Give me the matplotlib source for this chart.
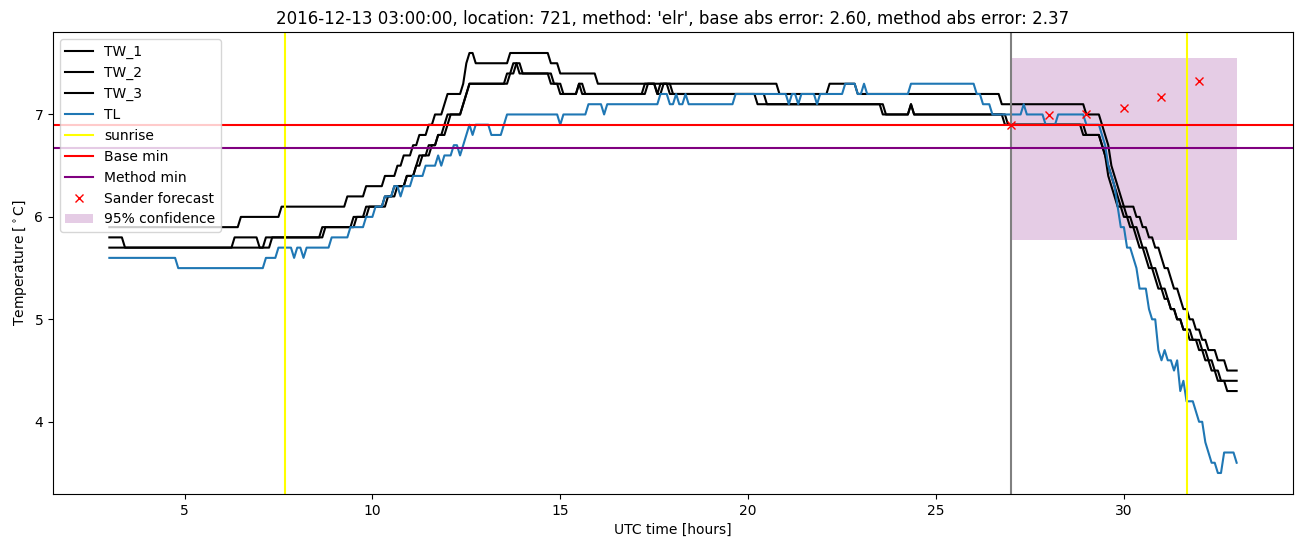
import numpy as np
import matplotlib
matplotlib.use("Agg")
import matplotlib.pyplot as plt

# measurements every 5 minutes, 03 UTC up to 33 UTC (next day 09 UTC)
hours = 3 + np.arange(361) / 12

# (start hour, value) : value is held from start hour until the next entry
tw1_steps = [
    (3.0, 5.9), (6.5, 6.0), (7.583, 6.1), (9.333, 6.2), (9.833, 6.3), (10.333, 6.4),
    (10.667, 6.5), (10.833, 6.6), (11.083, 6.7), (11.25, 6.8), (11.5, 6.9), (11.667, 7.0),
    (11.917, 7.1), (12.0, 7.2), (12.417, 7.3), (12.5, 7.5), (12.583, 7.6), (12.75, 7.5),
    (13.667, 7.6), (14.75, 7.5), (15.0, 7.4), (16.0, 7.3), (20.833, 7.2), (22.167, 7.3),
    (22.917, 7.2), (26.75, 7.1), (29.0, 7.0), (29.417, 6.9), (29.5, 6.8), (29.583, 6.7),
    (29.667, 6.5), (29.75, 6.4), (29.833, 6.3), (29.917, 6.2), (30.0, 6.1), (30.333, 6.0),
    (30.5, 5.9), (30.667, 5.8), (30.833, 5.7), (31.0, 5.6), (31.083, 5.5), (31.25, 5.4),
    (31.333, 5.3), (31.5, 5.2), (31.583, 5.1), (31.75, 5.0), (31.917, 4.9), (32.083, 4.8),
    (32.25, 4.7), (32.5, 4.6), (32.75, 4.5),
]
tw2_steps = [
    (3.0, 5.8), (3.417, 5.7), (6.333, 5.8), (7.0, 5.7), (7.167, 5.8), (8.667, 5.9),
    (9.5, 6.0), (9.833, 6.1), (10.333, 6.2), (10.583, 6.3), (10.917, 6.4), (11.167, 6.5),
    (11.25, 6.6), (11.5, 6.7), (11.75, 6.8), (11.917, 6.9), (12.0, 7.0), (12.417, 7.1),
    (12.5, 7.2), (12.583, 7.3), (13.583, 7.4), (13.75, 7.5), (13.917, 7.4), (14.75, 7.3),
    (15.0, 7.2), (15.5, 7.3), (15.583, 7.2), (17.25, 7.3), (17.583, 7.2), (17.667, 7.3),
    (17.917, 7.2), (20.25, 7.1), (23.583, 7.0), (24.333, 7.1), (24.417, 7.0), (26.833, 6.9),
    (28.917, 6.8), (29.417, 6.7), (29.5, 6.6), (29.583, 6.4), (29.667, 6.3), (29.75, 6.2),
    (29.833, 6.1), (30.0, 6.0), (30.167, 5.9), (30.333, 5.8), (30.417, 5.7), (30.583, 5.6),
    (30.667, 5.5), (30.833, 5.4), (30.917, 5.3), (31.083, 5.2), (31.25, 5.1), (31.417, 5.0),
    (31.583, 4.9), (31.75, 4.8), (32.0, 4.7), (32.167, 4.6), (32.333, 4.5), (32.5, 4.4),
]
tw3_steps = [
    (3.0, 5.7), (7.333, 5.8), (8.75, 5.9), (9.583, 6.0), (9.917, 6.1), (10.417, 6.2),
    (10.667, 6.3), (10.917, 6.4), (11.167, 6.5), (11.333, 6.6), (11.583, 6.7), (11.75, 6.8),
    (12.0, 6.9), (12.083, 7.0), (12.417, 7.1), (12.5, 7.2), (12.583, 7.3), (13.667, 7.4),
    (13.833, 7.5), (14.0, 7.4), (14.833, 7.3), (15.083, 7.2), (15.5, 7.3), (15.667, 7.2),
    (17.333, 7.3), (17.583, 7.2), (17.75, 7.3), (18.0, 7.2), (20.5, 7.1), (23.667, 7.0),
    (24.333, 7.1), (24.417, 7.0), (26.917, 6.9), (29.0, 6.8), (29.417, 6.7), (29.5, 6.6),
    (29.583, 6.5), (29.667, 6.4), (29.75, 6.3), (29.833, 6.2), (29.917, 6.1), (30.083, 6.0),
    (30.25, 5.9), (30.417, 5.8), (30.5, 5.7), (30.667, 5.6), (30.75, 5.5), (30.917, 5.4),
    (31.0, 5.3), (31.167, 5.2), (31.25, 5.1), (31.417, 5.0), (31.583, 4.9), (31.833, 4.8),
    (32.083, 4.7), (32.25, 4.6), (32.417, 4.5), (32.583, 4.4), (32.75, 4.3),
]
tl_steps = [
    (3.0, 5.6), (4.833, 5.5), (7.167, 5.6), (7.5, 5.7), (7.917, 5.6), (8.0, 5.7),
    (8.167, 5.6), (8.25, 5.7), (8.917, 5.8), (9.417, 5.9), (9.833, 6.0), (10.083, 6.1),
    (10.333, 6.2), (10.583, 6.3), (10.75, 6.2), (10.833, 6.3), (11.083, 6.4), (11.417, 6.5),
    (11.75, 6.6), (11.833, 6.5), (11.917, 6.6), (12.167, 6.7), (12.333, 6.6), (12.417, 6.7),
    (12.5, 6.8), (12.583, 6.9), (12.667, 6.8), (12.75, 6.9), (13.167, 6.8), (13.5, 6.9),
    (13.583, 7.0), (15.0, 6.9), (15.083, 7.0), (15.75, 7.1), (16.167, 7.0), (16.25, 7.1),
    (17.667, 7.2), (17.917, 7.1), (18.083, 7.2), (18.167, 7.1), (18.333, 7.2), (18.417, 7.1),
    (19.667, 7.2), (21.083, 7.1), (21.167, 7.2), (21.333, 7.1), (21.417, 7.2), (21.833, 7.1),
    (21.917, 7.2), (22.583, 7.3), (22.917, 7.2), (23.083, 7.3), (23.167, 7.2), (24.333, 7.3),
    (26.083, 7.2), (26.25, 7.1), (26.5, 7.0), (27.333, 7.1), (27.417, 7.0), (27.917, 6.9),
    (28.25, 7.0), (29.0, 6.9), (29.417, 6.8), (29.5, 6.7), (29.583, 6.5), (29.667, 6.4),
    (29.75, 6.3), (29.833, 6.1), (29.917, 5.9), (30.083, 5.7), (30.25, 5.6), (30.333, 5.5),
    (30.417, 5.3), (30.667, 5.1), (30.75, 5.0), (30.917, 4.7), (31.0, 4.6), (31.083, 4.7),
    (31.167, 4.6), (31.333, 4.5), (31.417, 4.6), (31.5, 4.3), (31.583, 4.4), (31.667, 4.2),
    (31.917, 4.1), (32.0, 4.0), (32.167, 3.8), (32.25, 3.7), (32.333, 3.6), (32.5, 3.5),
    (32.667, 3.7), (33.0, 3.6),
]

sunrise_hours = [7.68, 31.68]
forecast_start = 27.0
base_min = 6.90
method_min = 6.67
sander_hours = [27, 28, 29, 30, 31, 32]
sander_values = [6.90, 6.99, 7.00, 7.06, 7.17, 7.33]
conf_hours = [27.0, 33.0]
conf_low = 5.77
conf_high = 7.55

title = ("2016-12-13 03:00:00, location: 721, method: 'elr', "
         "base abs error: 2.60, method abs error: 2.37")


def expand(steps):
    # snap each start hour to the 5 minute grid
    starts = np.round((np.array([s for s, _ in steps]) - hours[0]) * 12).astype(int)
    vals = np.array([v for _, v in steps])
    idx = np.searchsorted(starts, np.arange(len(hours)), side='right') - 1
    return vals[idx]


fig, ax = plt.subplots(figsize=(13.02, 5.47), dpi=100)
fig.subplots_adjust(left=0.0407, right=0.9931, top=0.9415, bottom=0.0969)

ax.plot(hours, expand(tw1_steps), color='k', label='TW_1')
ax.plot(hours, expand(tw2_steps), color='k', label='TW_2')
ax.plot(hours, expand(tw3_steps), color='k', label='TW_3')
ax.plot(hours, expand(tl_steps), color='C0', label='TL')

for i, h in enumerate(sunrise_hours):
    ax.axvline(h, color='yellow', label='sunrise' if i == 0 else None)
ax.axvline(forecast_start, color='grey')
ax.axhline(base_min, color='red', label='Base min')
ax.axhline(method_min, color='purple', label='Method min')
ax.plot(sander_hours, sander_values, 'rx', label='Sander forecast')
ax.fill_between(conf_hours, conf_low, conf_high, color='purple', alpha=0.2,
                linewidth=0, label='95% confidence')

ax.set_title(title)
ax.set_xlabel('UTC time [hours]')
ax.set_ylabel(r'Temperature [$^\circ$C]')
ax.legend(loc='upper left')

fig.savefig('out.png')
